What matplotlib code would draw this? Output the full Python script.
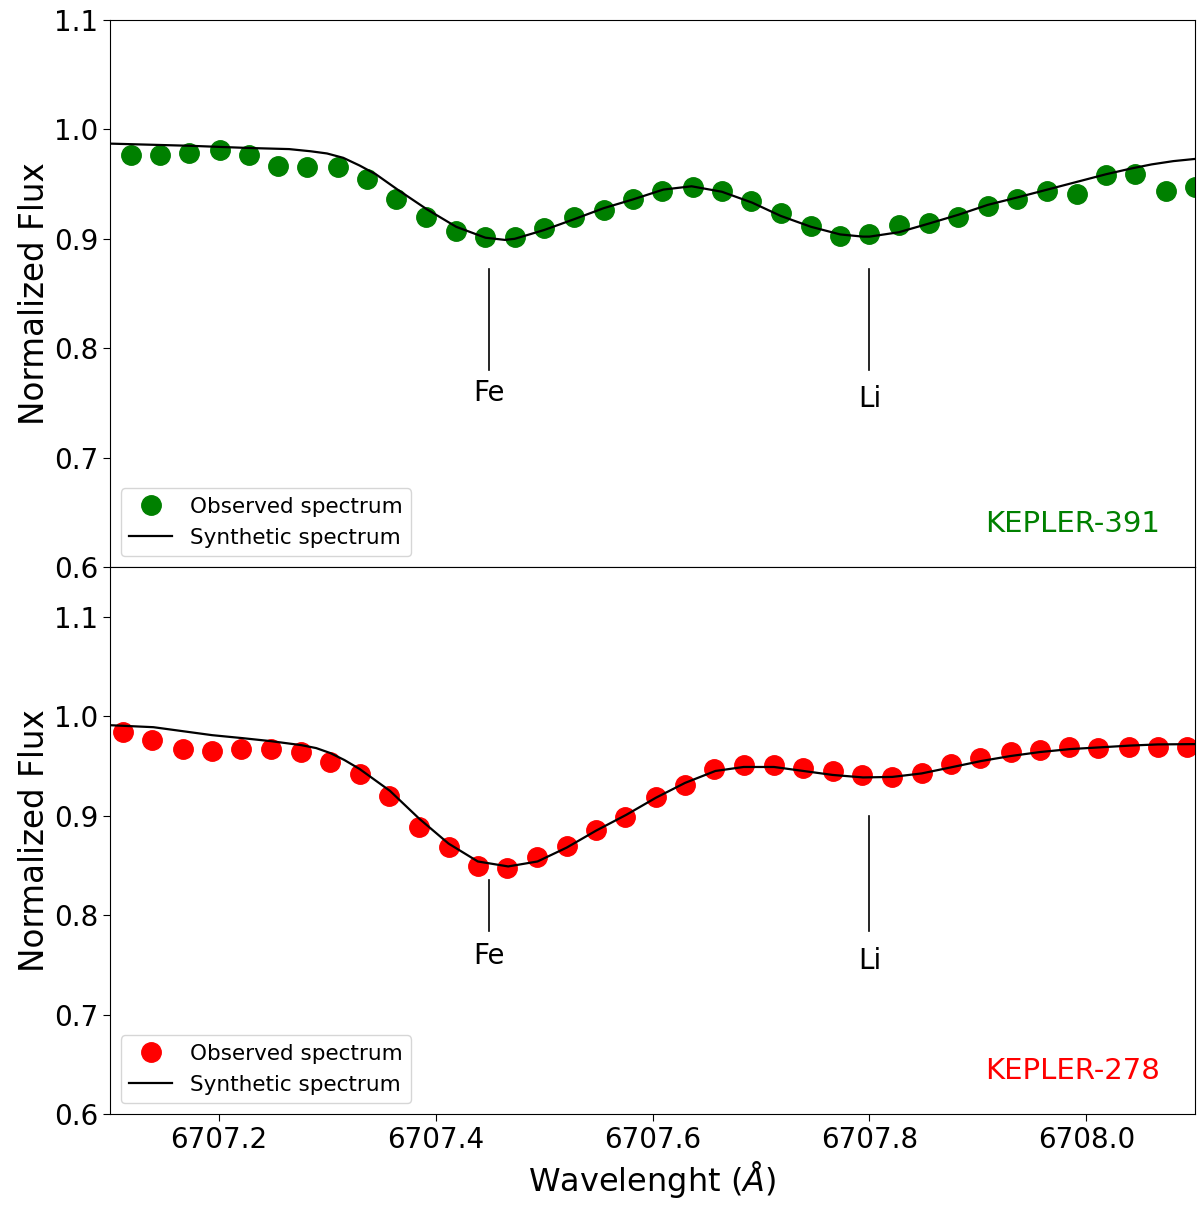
import matplotlib
matplotlib.use("Agg")
import matplotlib.pyplot as plt

# ---------------- data ----------------
# KEPLER-391 (top)
obs391_wl = [6707.119, 6707.146, 6707.173, 6707.201, 6707.228, 6707.255, 6707.282, 6707.310,
             6707.337, 6707.364, 6707.391, 6707.419, 6707.446, 6707.473, 6707.500, 6707.528,
             6707.555, 6707.582, 6707.609, 6707.637, 6707.664, 6707.691, 6707.718, 6707.746,
             6707.773, 6707.800, 6707.827, 6707.855, 6707.882, 6707.909, 6707.936, 6707.964,
             6707.991, 6708.018, 6708.045, 6708.073, 6708.100]
obs391_flux = [0.977, 0.977, 0.978, 0.981, 0.977, 0.967, 0.966, 0.966, 0.955, 0.936, 0.920,
               0.907, 0.902, 0.902, 0.910, 0.920, 0.926, 0.936, 0.944, 0.947, 0.944, 0.935,
               0.924, 0.912, 0.903, 0.904, 0.913, 0.914, 0.920, 0.930, 0.936, 0.944, 0.941,
               0.958, 0.959, 0.944, 0.947]
syn391_wl = [6707.100, 6707.174, 6707.228, 6707.265, 6707.285, 6707.300, 6707.315, 6707.330,
             6707.345, 6707.365, 6707.392,
             6707.419, 6707.446, 6707.464, 6707.473, 6707.500, 6707.528, 6707.555, 6707.582,
             6707.610, 6707.636, 6707.664, 6707.692, 6707.718, 6707.746, 6707.773, 6707.794,
             6707.800, 6707.827, 6707.855, 6707.882, 6707.909, 6707.937, 6707.964, 6707.991,
             6708.018, 6708.040, 6708.060, 6708.080, 6708.100]
syn391_flux = [0.987, 0.985, 0.983, 0.982, 0.980, 0.978, 0.974, 0.967, 0.959, 0.945, 0.927,
               0.911, 0.901, 0.899, 0.900, 0.908, 0.918, 0.928, 0.936, 0.945, 0.948, 0.943,
               0.933, 0.921, 0.911, 0.904, 0.902, 0.902, 0.906, 0.914, 0.922, 0.931, 0.938,
               0.945, 0.952, 0.959, 0.964, 0.968, 0.971, 0.973]

# KEPLER-278 (bottom)
obs278_wl = [6707.112, 6707.139, 6707.167, 6707.194, 6707.221, 6707.248, 6707.276, 6707.303,
             6707.330, 6707.357, 6707.385, 6707.412, 6707.439, 6707.466, 6707.494, 6707.521,
             6707.548, 6707.575, 6707.603, 6707.630, 6707.657, 6707.684, 6707.712, 6707.739,
             6707.766, 6707.793, 6707.821, 6707.848, 6707.875, 6707.902, 6707.930, 6707.957,
             6707.984, 6708.011, 6708.039, 6708.066, 6708.093]
obs278_flux = [0.984, 0.976, 0.967, 0.965, 0.967, 0.967, 0.964, 0.954, 0.942, 0.920, 0.889,
               0.869, 0.849, 0.847, 0.858, 0.870, 0.886, 0.899, 0.919, 0.931, 0.9465, 0.951,
               0.951, 0.948, 0.9445, 0.9405, 0.939, 0.943, 0.9516, 0.958, 0.9636, 0.9656,
               0.9693, 0.9683, 0.9686, 0.9693, 0.9686]
syn278_wl = [6707.100, 6707.140, 6707.167, 6707.194, 6707.222, 6707.248, 6707.276, 6707.290,
             6707.303, 6707.316,
             6707.330, 6707.358, 6707.385, 6707.412, 6707.439, 6707.467, 6707.494, 6707.521,
             6707.548, 6707.576, 6707.603, 6707.630, 6707.658, 6707.684, 6707.712, 6707.739,
             6707.766, 6707.794, 6707.821, 6707.848, 6707.875, 6707.903, 6707.930, 6707.957,
             6707.985, 6708.012, 6708.040, 6708.066, 6708.100]
syn278_flux = [0.991, 0.989, 0.985, 0.981, 0.978, 0.975, 0.971, 0.968, 0.963, 0.956,
               0.947, 0.925, 0.897, 0.872, 0.854, 0.849, 0.854, 0.868, 0.885, 0.901, 0.918,
               0.933, 0.945, 0.949, 0.949, 0.945, 0.941, 0.9385, 0.939, 0.9425, 0.9486,
               0.955, 0.960, 0.964, 0.967, 0.9687, 0.9705, 0.9717, 0.972]

stars = ["KEPLER-391", "KEPLER-278"]
star_colors = ["green", "red"]
xticks = [6707.2, 6707.4, 6707.6, 6707.8, 6708.0]
yticks = [0.6, 0.7, 0.8, 0.9, 1.0, 1.1]

# ---------------- figure ----------------
fig, axes = plt.subplots(2, 1, figsize=(12, 12.11), dpi=100, sharex=True)
fig.subplots_adjust(left=0.0917, right=0.9958, top=0.9835, bottom=0.0800, hspace=0)

panels = [
    (obs391_wl, obs391_flux, syn391_wl, syn391_flux, (0.6, 1.1),
     [(6707.449, 0.872, 0.780, "Fe", 0.759), (6707.800, 0.872, 0.780, "Li", 0.754)]),
    (obs278_wl, obs278_flux, syn278_wl, syn278_flux, (0.6, 1.15),
     [(6707.449, 0.835, 0.784, "Fe", 0.759), (6707.800, 0.900, 0.784, "Li", 0.754)]),
]

for ax, (owl, ofl, swl, sfl, ylim, marks), name, col in zip(axes, panels, stars, star_colors):
    ax.plot(owl, ofl, 'o', color=col, ms=14, label="Observed spectrum", zorder=2)
    ax.plot(swl, sfl, '-', color='black', lw=1.6, label="Synthetic spectrum", zorder=3)
    for (xm, y0, y1, lab, ty) in marks:
        ax.plot([xm, xm], [y0, y1], color='black', lw=1.2)
        ax.text(xm, ty, lab, ha='center', va='center', fontsize=20)
    ax.set_ylim(*ylim)
    ax.set_yticks(yticks)
    ax.set_yticklabels([f"{v:.1f}" for v in yticks])
    ax.set_ylabel("Normalized Flux", fontsize=23.5, labelpad=2)
    ax.tick_params(axis='both', labelsize=20, length=5)
    ax.legend(loc='lower left', fontsize=15.5, numpoints=1, handlelength=2.0,
              borderaxespad=0.5)
    ax.text(0.968, 0.079, name, color=col, fontsize=21, ha='right', va='center',
            transform=ax.transAxes)

axes[1].set_xlim(6707.1, 6708.1)
axes[1].set_xticks(xticks)
axes[1].set_xticklabels([f"{v:.1f}" for v in xticks])
axes[1].set_xlabel(r"Wavelenght ($\AA$)", fontsize=23)

fig.savefig("out.png", dpi=100)
